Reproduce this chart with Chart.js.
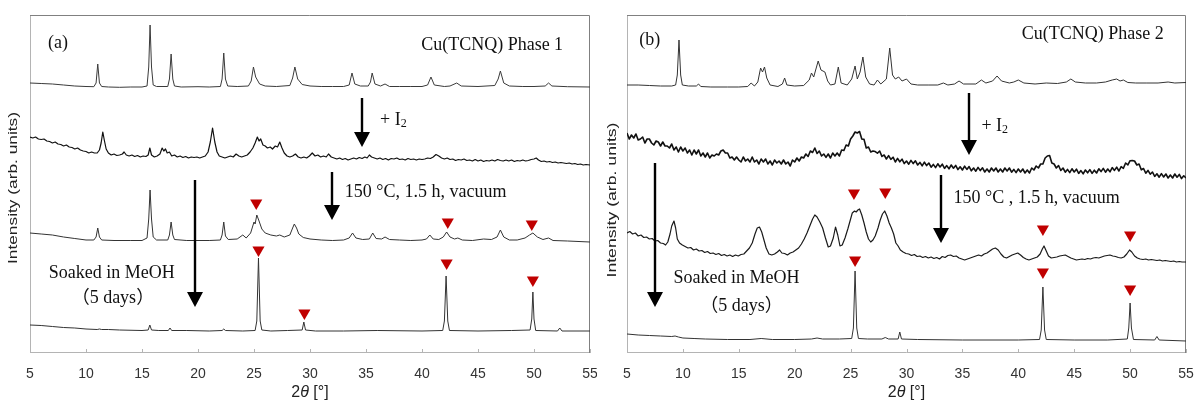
<!DOCTYPE html>
<html>
<head>
<meta charset="utf-8">
<script src="https://cdn.jsdelivr.net/npm/chart.js@4.4.1/dist/chart.umd.min.js"></script>
<style>
  html, body { margin: 0; padding: 0; background: #fff; }
  #wrap { position: relative; width: 1194px; height: 405px; }
  .panel { position: absolute; top: 0; width: 597px; height: 405px; }
</style>
</head>
<body>
<div id="wrap">
  <div class="panel" style="left:0"><canvas id="chartA"></canvas></div>
  <div class="panel" style="left:597px"><canvas id="chartB"></canvas></div>
</div>
<script>
// ---- (a) Cu(TCNQ) Phase 1 : [2theta, intensity above own baseline] ----
const phase1Pattern = [[5,4],[6,3.5],[7,3],[8,2],[9,1],[10,0.5],[10.7,0.3],[10.9,4],[11.05,23],[11.2,4],[11.4,0.5],[12,0],[13,-0.3],[14,0],[15,0],[15.45,1],[15.6,20],[15.72,62],[15.85,20],[16,2],[16.3,0.5],[17.3,0.5],[17.45,8],[17.6,33],[17.75,8],[17.9,1],[18.5,0],[20,0.3],[21,0],[22.0,0.5],[22.15,8],[22.3,34],[22.45,8],[22.65,1],[23.5,0.5],[24.5,1],[24.75,6],[24.95,20],[25.15,10],[25.5,3],[26,1],[27,0.5],[28.2,1.5],[28.45,9],[28.65,20],[28.9,8],[29.3,2.5],[30,1],[31,0.5],[32,0.5],[33,0.5],[33.5,2],[33.75,14],[34,3],[34.5,1],[35.2,1],[35.4,5],[35.55,14],[35.8,3],[36.3,1],[36.7,3],[37.1,0.5],[38,0.5],[39,0.5],[40,0.5],[40.5,2],[40.8,10],[41.1,2],[42,0.5],[42.5,1],[43.1,4],[43.5,1],[45,0.5],[46.5,1.5],[46.8,8],[47.0,16],[47.3,4],[47.8,1],[49,0.5],[50,0.5],[51,1],[51.3,4],[51.6,1],[53,0.3],[55,0]];

const phase1Iodine = [[5.0,23],[5.25,22],[5.5,23],[5.75,21],[6.0,20.5],[6.25,21],[6.5,19],[6.75,18.5],[7.0,17],[7.25,18],[7.5,16],[7.75,15.5],[8.0,14],[8.25,15],[8.5,13],[8.75,12.5],[9.0,11],[9.25,12],[9.5,10],[9.75,9],[10.0,8.5],[10.25,7],[10.5,8],[10.75,7],[11.0,7],[11.2,10],[11.35,17],[11.5,28],[11.65,19],[11.8,11],[12.0,7],[12.25,5],[12.5,6],[12.75,4.5],[13.0,5],[13.25,6],[13.4,8],[13.6,5],[13.85,4],[14.1,5],[14.35,3.5],[14.6,4.5],[14.85,3],[15.1,4],[15.35,3.5],[15.55,5],[15.7,12],[15.85,5],[16.1,3],[16.35,4],[16.6,6],[16.8,12],[16.95,9],[17.1,11],[17.25,7],[17.45,8],[17.65,4],[17.9,5],[18.15,3],[18.4,4],[18.65,2.5],[18.9,3.5],[19.15,2],[19.4,3],[19.65,2.5],[19.9,3],[20.15,2],[20.4,3],[20.65,4],[20.9,8],[21.1,18],[21.3,32],[21.5,18],[21.7,8],[21.9,4],[22.15,3],[22.4,2],[22.65,3],[22.9,4],[23.15,3],[23.4,6],[23.65,4],[23.9,3],[24.15,4],[24.4,5],[24.65,8],[24.9,12],[25.1,17],[25.3,23],[25.45,19],[25.6,21],[25.8,15],[26.0,14],[26.2,12],[26.45,13],[26.65,11],[26.9,14],[27.1,13],[27.3,18],[27.5,12],[27.7,7],[27.95,4],[28.2,3],[28.45,4],[28.7,6],[28.95,3],[29.2,2],[29.45,3],[29.7,2],[29.95,4],[30.2,7],[30.45,4],[30.7,5],[30.95,3],[31.2,4],[31.45,3],[31.65,6],[31.9,3],[32.15,2],[32.4,1],[32.65,2],[32.9,0.5],[33.15,1.5],[33.4,0],[33.65,1],[33.9,2],[34.15,1],[34.4,2.5],[34.65,1.5],[34.9,3],[35.1,2],[35.3,5],[35.5,3],[35.75,2],[36.0,1],[36.25,2],[36.5,0.5],[36.75,1.5],[37.0,0],[37.25,1.5],[37.5,1],[37.75,2],[38.0,0.5],[38.25,1],[38.5,0],[38.75,1.5],[39.0,0.5],[39.25,1],[39.5,0],[39.75,1],[40.0,0.5],[40.25,1],[40.5,2],[40.75,1.5],[41.0,3],[41.25,5.5],[41.5,4],[41.75,2],[42.0,1],[42.25,2],[42.5,0.5],[42.75,1],[43.0,-0.5],[43.25,0.5],[43.5,0],[43.75,1],[44.0,-0.5],[44.25,0],[44.5,-1],[44.75,0.5],[45.0,-1],[45.25,0],[45.5,-1.5],[45.75,-0.5],[46.0,-1],[46.25,0],[46.5,-1],[46.75,0.5],[47.0,-0.5],[47.25,-1],[47.5,0],[47.75,-1],[48.0,0],[48.25,-1.5],[48.5,-0.5],[48.75,-1],[49.0,0],[49.25,-1],[49.5,-0.5],[49.75,0.5],[50.0,1],[50.2,2],[50.4,0],[50.65,-1.5],[50.9,-1],[51.15,-2],[51.4,-1.5],[51.65,-2.5],[51.9,-2],[52.15,-3],[52.4,-2.5],[52.65,-3],[52.9,-3.5],[53.15,-3],[53.4,-4],[53.65,-3.5],[53.9,-4.5],[54.15,-4],[54.4,-5],[54.65,-4.5],[55.0,-5]];

const phase1Heated = [[5,8],[6,7],[7,6],[8,4],[9,2.5],[10,1],[10.7,1],[10.9,4],[11.05,13],[11.2,4],[11.4,1],[12.5,0.5],[14,0.5],[15,0.5],[15.45,3],[15.6,22],[15.72,51],[15.85,22],[16.0,4],[16.3,1],[17.3,1],[17.45,6],[17.6,19],[17.75,6],[17.9,1.5],[19,0.5],[21,0.5],[22.0,1],[22.15,6],[22.3,19],[22.45,5],[22.7,1.5],[23.5,2],[24.0,6],[24.3,3],[24.7,8],[25.0,19],[25.1,17],[25.25,26],[25.45,20],[25.7,12],[26.0,8],[26.5,6],[27.0,5],[27.3,6],[27.7,4],[28.2,6],[28.45,13],[28.6,17],[28.8,13],[29.0,7],[29.4,3.5],[30,2],[31,1],[32,0.5],[33,1],[33.5,3],[33.8,8],[34.1,3],[34.7,1.5],[35.3,2],[35.6,8],[35.9,2.5],[36.4,2],[36.7,4],[37.1,1.5],[38,1],[39,0.5],[40,1],[40.4,2],[40.7,6],[41.0,2],[41.5,1.5],[41.9,4],[42.2,9],[42.5,4],[42.9,2],[43.2,3],[43.6,1],[44.5,0.5],[45.5,2],[46.2,1.5],[46.7,4],[47.0,11],[47.3,4],[47.8,1],[48.5,1],[49.2,3],[49.6,6],[49.9,8],[50.3,4],[50.8,1.5],[51.3,3],[51.7,0.5],[53,0],[55,-1]];

const phase1Soaked = [[5,6],[6,5.5],[7,4.5],[8,3.5],[9,3],[10,2],[11,1.5],[11.2,2],[11.4,1.5],[12,1.5],[13,1],[15,0.5],[15.55,1],[15.7,6],[15.85,1],[16.5,0.5],[17.35,0.5],[17.5,3],[17.65,0.5],[19,0.5],[21,0],[22.15,0.5],[22.3,2],[22.45,0.5],[24,0],[25.1,0.5],[25.25,10],[25.4,73],[25.55,10],[25.7,1],[26.5,0],[28,0.5],[29.3,1],[29.45,9],[29.6,1],[30.5,0],[33,0],[36,0.5],[40,0],[41.85,0.5],[42.0,10],[42.15,55],[42.3,10],[42.45,0.5],[45,0],[48,0.5],[49.65,1],[49.8,12],[49.9,39],[50.0,12],[50.15,0.5],[52.1,0],[52.3,3],[52.5,0],[55,0]];

// ---- (b) Cu(TCNQ) Phase 2 ----
const phase2Pattern = [[5,2],[6,2],[7,1.5],[8,1],[9,1],[9.35,2],[9.5,12],[9.65,47],[9.8,12],[9.95,2],[10.5,1],[11.2,1],[11.4,3],[11.6,0.5],[12.5,0],[14,0],[15,0],[15.8,0.5],[16.1,4],[16.4,1],[16.7,5],[16.95,19],[17.12,15],[17.3,20],[17.5,9],[17.8,2],[18.5,0.5],[18.9,3],[19.1,9],[19.3,2],[20,1],[20.8,1.5],[21.3,7],[21.5,14],[21.7,10],[21.9,18],[22.1,26],[22.35,17],[22.7,15],[22.95,6],[23.2,2],[23.6,3],[23.9,20],[24.15,4],[24.7,2],[25.1,8],[25.4,21],[25.6,8],[25.85,15],[26.1,30],[26.35,10],[26.7,3],[27.1,2],[27.4,7],[27.7,3],[28.2,8],[28.5,39],[28.75,12],[29.0,8],[29.3,10],[29.6,6],[30.0,8],[30.4,3],[31,2],[32,2],[32.8,2],[33.3,4],[33.7,2],[34.3,3],[34.7,6],[35.1,3],[36.2,3],[36.7,7],[37.1,4],[37.7,6],[38.1,11],[38.5,6],[39.2,4],[39.6,5],[40.0,7],[40.5,4],[41.5,3],[42.5,4],[43.5,3.5],[44.3,5],[44.7,8],[45.1,5],[46,4],[47,4],[47.8,5],[48.4,7],[48.8,8],[49.1,6],[49.4,7],[49.8,4.5],[50.5,4],[51.5,4],[52.5,4],[53.4,5],[54,4],[55,4.5]];

// +I2 scan, read every 0.2 deg starting at 5 deg
const phase2IodineStart = 5;
const phase2IodineStep = 0.2;
const phase2Iodine = [
  37,31,35,32,36,30,31,33,27,31,
  31,27,25,29,28,24,28,24,24,22,
  26,20,23,18,23,19,22,17,20,15,
  20,16,20,14,17,13,17,12,15,14,
  16,15,19,20,17,17,12,13,10,13,
  10,8,13,9,11,8,13,8,10,6,
  11,8,11,6,9,5,10,7,9,6,
  10,6,8,4,10,8,12,9,13,12,
  16,13.5,19,17.5,22,16.5,19,14,16,12.6,
  16,12,17,14,17,14,20,19.5,25,24,
  31,34,38,37,38.5,31,30.6,22,23,18,
  19,18.4,16.8,19,13.6,15,11,14.4,10.6,12.8,
  8,11.6,8.2,10.8,6.4,9,5.8,9.6,6.4,9.2,
  5,7.6,4.2,7.8,4.4,7,2.8,5.6,2.4,6.2,
  3,5.8,1.6,4.4,1.2,5,1.8,4.6,0.4,3.2,
  0,3.8,0.6,3.4,-0.8,2,-1.2,2.6,-0.6,2.2,
  -2,1,-2,2,-1,2,-2,1,-2,2,
  -1,2,-2.2,0.6,-2.6,1,-2,1,-3,0,
  -3,2,0,4,2,6,6,12,14,14.5,
  7,6,2,4.5,-0.5,2,-2.2,0.6,-2.6,1.2,
  -2,0.8,-3.4,-0.6,-3.8,0,-2.8,0.4,-3.4,-0.2,
  -3,1.2,-1.6,1.6,-2.2,1,-1.8,2.4,-0.4,2.8,
  -1,3.3,1.7,7,5.1,9.3,9.4,9,5,6,
  0.2,1.5,-3.2,-0.4,-4.2,-2,-6.4,-3.8,-7.2,-3.6,
  -7,-4,-8,-5,-8,-4,-7.2,-4.4,-8.6,-5.8,
  -8
];

const phase2Heated = [[5,25],[5.25,26.5],[5.5,24],[5.75,25],[6,22],[6.25,23],[6.5,20.5],[6.75,21],[7,19],[7.25,19.5],[7.5,17],[7.75,17.5],[8,15],[8.25,14.5],[8.45,13],[8.65,16],[8.85,24],[9.0,32],[9.2,37],[9.35,30],[9.5,19],[9.7,15],[9.95,13],[10.2,11.5],[10.45,10],[10.7,10.5],[10.95,8],[11.2,9],[11.45,7],[11.7,7.5],[11.95,5.5],[12.2,6.5],[12.45,4.5],[12.7,5],[12.95,3.5],[13.2,4.5],[13.45,2.5],[13.7,3.5],[13.95,2],[14.2,3],[14.45,1.5],[14.7,3],[14.95,2],[15.2,3.5],[15.45,4],[15.7,7],[15.95,10],[16.2,15],[16.45,24],[16.65,30],[16.85,31],[17.05,26],[17.25,18],[17.45,10],[17.7,4],[17.95,3],[18.2,4],[18.45,6],[18.65,8],[18.85,5],[19.1,4.5],[19.35,3],[19.6,5],[19.85,6],[20.1,8],[20.35,10],[20.6,14],[20.85,19],[21.1,25],[21.35,32],[21.6,39],[21.8,43],[22.0,41],[22.25,36],[22.5,30],[22.75,20],[23.0,11],[23.2,12],[23.45,20],[23.65,31],[23.85,23],[24.05,12],[24.25,13],[24.5,20],[24.75,29],[24.95,37],[25.15,45],[25.35,47],[25.5,46],[25.65,48],[25.8,49],[26.0,43],[26.2,35],[26.4,26],[26.6,19],[26.8,16],[27.0,18],[27.2,22],[27.45,30],[27.65,38],[27.85,44],[28.05,47],[28.25,42],[28.45,35],[28.65,30],[28.85,24],[29.05,15],[29.25,12],[29.45,8],[29.7,6],[29.95,4.5],[30.2,4],[30.45,2.5],[30.7,3.5],[30.95,1.5],[31.2,2],[31.45,0.5],[31.7,1.5],[31.95,0],[32.2,1],[32.45,-0.5],[32.7,0.5],[32.95,-1],[33.2,1.5],[33.45,0.5],[33.7,2.5],[33.95,3],[34.2,1.5],[34.45,2],[34.7,0],[34.95,-1],[35.2,-2],[35.45,-1],[35.7,0],[35.95,1],[36.2,2],[36.45,3],[36.7,2],[36.95,4],[37.2,5],[37.45,7],[37.7,9],[37.95,10],[38.2,8],[38.45,4],[38.7,1],[38.95,0],[39.2,1.5],[39.45,3],[39.7,4],[39.95,5],[40.2,3],[40.45,0.5],[40.7,-1],[40.95,-2],[41.2,-1],[41.45,0],[41.7,1],[41.95,4],[42.15,9],[42.3,12],[42.5,7],[42.7,2],[42.95,0],[43.2,0.5],[43.45,1],[43.7,2],[43.95,2.5],[44.2,3],[44.45,1.5],[44.7,0],[44.95,-1],[45.2,-2],[45.45,-1.5],[45.7,-1],[45.95,-1.5],[46.2,-0.5],[46.45,-1],[46.7,0],[46.95,0.5],[47.2,0],[47.45,1],[47.7,2],[47.95,2.5],[48.2,3],[48.45,2],[48.7,1.5],[48.95,0.5],[49.2,0],[49.45,1],[49.7,4],[49.95,8],[50.15,6],[50.4,2],[50.65,0],[50.9,-1],[51.15,-1.5],[51.4,-1],[51.65,-2],[51.9,-1.5],[52.15,-2],[52.4,-2.5],[52.65,-2],[52.9,-3],[53.15,-2.5],[53.4,-3],[53.65,-3.5],[53.9,-3],[54.15,-4],[54.4,-3.5],[54.65,-4],[55,-4]];

const phase2Soaked = [[5,6],[6,5],[7,4.5],[8,4],[9,3.5],[9.3,4],[9.6,3],[10,2],[11,1.5],[12,1],[14,0.5],[16,0.5],[17,1.5],[18,0.5],[20,0.5],[21.5,1],[22,2],[22.5,1],[24,1],[25.1,1.5],[25.25,12],[25.4,69],[25.55,12],[25.7,1.5],[26.5,1],[27.8,1],[28.1,2.5],[28.4,1],[29.25,1],[29.4,8],[29.55,1],[31,0.5],[35,0],[40,0],[41.9,0.5],[42.05,10],[42.2,53],[42.35,10],[42.5,0.5],[45,0],[48,0],[49.75,1],[49.88,12],[50.0,37],[50.12,12],[50.3,0.5],[52.2,0],[52.4,3.5],[52.6,0],[55,-1]];

// vertical stacking offsets (arb. units), top trace first
const offsetsA = [266, 193, 112, 22];
const offsetsB = [266, 183, 95, 13];

// red marker positions [2theta, stacked intensity]
const markersA = [[25.2,150],[42.3,131],[49.8,129],[25.4,103],[29.5,40],[42.2,90],[49.9,73]];
const markersB = [[25.3,160],[28.1,161],[42.2,124],[50.0,118],[25.4,93],[42.2,81],[50.0,64]];

const xMin = 5, xMax = 55, xStep = 5;

const SERIF = '"Liberation Serif", "Times New Roman", "Noto Sans CJK JP", serif';
const SANS = '"Liberation Sans", Arial, sans-serif';

const decor = {
  id: 'decor',
  beforeDatasetsDraw(chart, args, o) {
    const { ctx, chartArea: a, scales: { x } } = chart;
    ctx.save();
    ctx.lineWidth = 1;
    // light left / bottom axes
    ctx.strokeStyle = '#b4b4b4';
    ctx.beginPath();
    ctx.moveTo(a.left + 0.5, a.top);
    ctx.lineTo(a.left + 0.5, a.bottom - 0.5);
    ctx.lineTo(a.right, a.bottom - 0.5);
    ctx.stroke();
    // inward tick marks
    x.ticks.forEach(t => {
      const px = Math.round(x.getPixelForValue(t.value)) + 0.5;
      ctx.beginPath();
      ctx.moveTo(px, a.bottom);
      ctx.lineTo(px, a.bottom - 4);
      ctx.stroke();
    });
    // darker top / right frame
    ctx.strokeStyle = '#808080';
    ctx.beginPath();
    ctx.moveTo(a.left, a.top + 0.5);
    ctx.lineTo(a.right - 0.5, a.top + 0.5);
    ctx.lineTo(a.right - 0.5, a.bottom);
    ctx.stroke();
    ctx.restore();
  },
  afterDraw(chart, args, o) {
    const { ctx, chartArea: a, scales: { x, y } } = chart;
    ctx.save();
    ctx.fillStyle = '#000';
    ctx.strokeStyle = '#000';

    // arrows
    o.arrows.forEach(ar => {
      const px = Math.round(x.getPixelForValue(ar.x));
      const y1 = y.getPixelForValue(ar.from);
      const y2 = y.getPixelForValue(ar.to);
      const head = 15, half = 8;
      ctx.lineWidth = 2.4;
      ctx.beginPath();
      ctx.moveTo(px, y1);
      ctx.lineTo(px, y2 - head + 1);
      ctx.stroke();
      ctx.beginPath();
      ctx.moveTo(px - half, y2 - head);
      ctx.lineTo(px + half, y2 - head);
      ctx.lineTo(px, y2);
      ctx.closePath();
      ctx.fill();
    });

    // serif annotations
    ctx.fillStyle = '#111';
    ctx.textBaseline = 'middle';
    o.labels.forEach(l => {
      const px = x.getPixelForValue(l.x);
      const py = y.getPixelForValue(l.y);
      ctx.font = '18px ' + SERIF;
      ctx.textAlign = l.align || 'left';
      if (l.sub) {
        ctx.textAlign = 'left';
        ctx.fillText(l.text, px, py);
        const w = ctx.measureText(l.text).width;
        ctx.font = '12px ' + SERIF;
        ctx.fillText(l.sub, px + w, py + 4);
      } else {
        ctx.fillText(l.text, px, py);
      }
    });

    // y axis title (tall, narrow sans lettering)
    const t = o.yTitle;
    ctx.font = '13px ' + SANS;
    ctx.fillStyle = '#222';
    const w = ctx.measureText('Intensity (arb. units)').width;
    ctx.save();
    ctx.translate(t.x, t.y);
    ctx.rotate(-Math.PI / 2);
    ctx.scale(t.len / w, 1);
    ctx.textAlign = 'center';
    ctx.fillText('Intensity (arb. units)', 0, 0);
    ctx.restore();

    // x axis title: 2θ [°]
    const parts = [
      { s: '2', f: '16px ' + SANS },
      { s: 'θ', f: 'italic 16px ' + SANS },
      { s: ' [°]', f: '16px ' + SANS }
    ];
    let total = 0;
    parts.forEach(p => { ctx.font = p.f; p.w = ctx.measureText(p.s).width; total += p.w; });
    let cx = (a.left + a.right) / 2 - total / 2;
    ctx.textAlign = 'left';
    parts.forEach(p => { ctx.font = p.f; ctx.fillText(p.s, cx, 393); cx += p.w; });
    ctx.restore();
  }
};

function toPoints(pairs, off) {
  return pairs.map(p => ({ x: p[0], y: p[1] + off }));
}

function makePanel(id, traces, offsets, colors, widths, markers, decorOpts, padRight) {
  const datasets = traces.map((pts, i) => ({
    data: toPoints(pts, offsets[i]),
    borderColor: colors[i],
    borderWidth: widths[i],
    borderJoinStyle: 'round',
    pointRadius: 0,
    tension: 0,
    fill: false
  }));
  datasets.push({
    data: markers.map(m => ({ x: m[0], y: m[1] })),
    showLine: false,
    pointStyle: 'triangle',
    pointRotation: 180,
    pointRadius: 7,
    pointHoverRadius: 7,
    pointBackgroundColor: '#c00000',
    pointBorderWidth: 0,
    borderColor: 'rgba(0,0,0,0)'
  });
  return new Chart(document.getElementById(id), {
    type: 'line',
    data: { datasets },
    options: {
      responsive: true,
      maintainAspectRatio: false,
      animation: false,
      events: [],
      layout: { padding: { left: 30, right: padRight, top: 15, bottom: 0 } },
      plugins: { legend: { display: false }, tooltip: { enabled: false }, decor: decorOpts },
      scales: {
        x: {
          type: 'linear', min: xMin, max: xMax,
          ticks: {
            stepSize: xStep, padding: 13, color: '#333',
            font: { family: '"Liberation Sans Narrow", "Arial Narrow", ' + SANS, size: 14 }
          },
          grid: { display: false, drawTicks: false },
          border: { display: false },
          afterFit(s) { s.height = 52; s.paddingLeft = 0; s.paddingRight = 0; }
        },
        y: { display: false, min: 0, max: 338 }
      }
    },
    plugins: [decor]
  });
}

const phase2IodinePairs = phase2Iodine.map((v, i) => [phase2IodineStart + i * phase2IodineStep, v]);

makePanel('chartA',
  [phase1Pattern, phase1Iodine, phase1Heated, phase1Soaked], offsetsA,
  ['#3a3a3a', '#111', '#333', '#333'], [1, 1.2, 1, 1], markersA,
  {
    arrows: [
      { x: 34.6, from: 255, to: 206 },
      { x: 32.0, from: 181, to: 133 },
      { x: 19.7, from: 173, to: 46 }
    ],
    labels: [
      { text: '(a)', x: 6.6, y: 310 },
      { text: 'Cu(TCNQ) Phase 1', x: 52.6, y: 308, align: 'right' },
      { text: '+ I', sub: '2', x: 36.25, y: 233 },
      { text: '150 °C, 1.5 h, vacuum', x: 33.1, y: 161 },
      { text: 'Soaked in MeOH', x: 12.3, y: 80, align: 'center' },
      { text: '（5 days）', x: 12.4, y: 55, align: 'center' }
    ],
    yTitle: { x: 13, y: 188, len: 152 }
  }, 7);

makePanel('chartB',
  [phase2Pattern, phase2IodinePairs, phase2Heated, phase2Soaked], offsetsB,
  ['#333', '#111', '#1a1a1a', '#333'], [1, 1.6, 1.2, 1], markersB,
  {
    arrows: [
      { x: 35.6, from: 260, to: 198 },
      { x: 33.1, from: 178, to: 110 },
      { x: 7.5, from: 190, to: 46 }
    ],
    labels: [
      { text: '(b)', x: 6.1, y: 313 },
      { text: 'Cu(TCNQ) Phase 2', x: 53.0, y: 319, align: 'right' },
      { text: '+ I', sub: '2', x: 36.7, y: 227 },
      { text: '150 °C , 1.5 h, vacuum', x: 34.2, y: 155 },
      { text: 'Soaked in MeOH', x: 14.8, y: 75, align: 'center' },
      { text: '（5 days）', x: 15.25, y: 47, align: 'center' }
    ],
    yTitle: { x: 15, y: 200, len: 155 }
  }, 8);
</script>
</body>
</html>
